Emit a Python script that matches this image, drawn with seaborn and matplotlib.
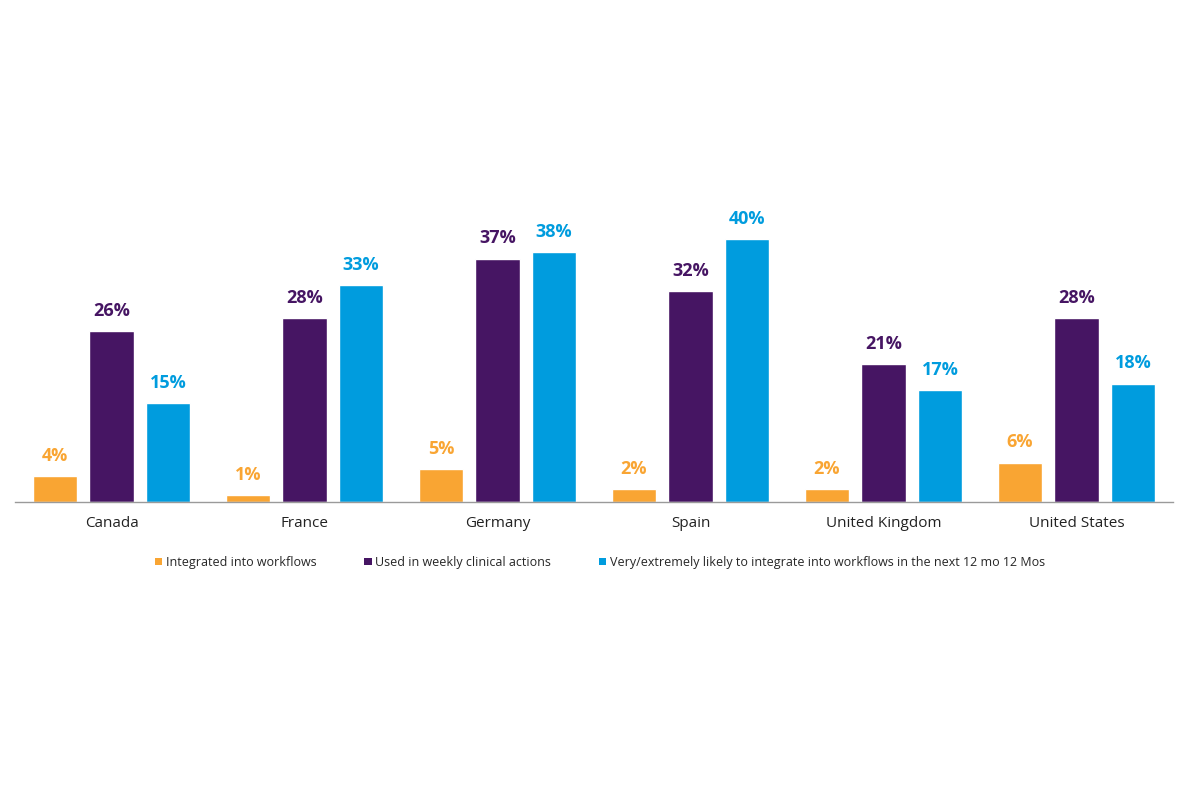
import pandas as pd
import seaborn as sns
import matplotlib.pyplot as plt
from matplotlib.patches import Patch

countries = ["Canada", "France", "Germany", "Spain", "United Kingdom", "United States"]
series = [
    "Integrated into workflows",
    "Used in weekly clinical actions",
    "Very/extremely likely to integrate into workflows in the next 12 mo 12 Mos",
]
integrated = [4, 1, 5, 2, 2, 6]
weekly = [26, 28, 37, 32, 21, 28]
likely = [15, 33, 38, 40, 17, 18]
colors = ["#F9A533", "#461563", "#009CDE"]

rows = []
for name, vals in zip(series, [integrated, weekly, likely]):
    for c, v in zip(countries, vals):
        rows.append({"Country": c, "Series": name, "Value": v})
df = pd.DataFrame(rows)

sns.set_style("white")
plt.rcParams["font.family"] = ["Open Sans", "DejaVu Sans"]

fig = plt.figure(figsize=(12, 8), dpi=100)
ax = fig.add_axes([0.0125, 0.3725, 0.965, 0.44])
sns.barplot(data=df, x="Country", y="Value", hue="Series", palette=colors,
            width=0.88, gap=0.22, saturation=1, order=countries, hue_order=series,
            errorbar=None, legend=False, ax=ax)

for cont, col in zip(ax.containers, colors):
    ax.bar_label(cont, fmt="%d%%", padding=8, color=col,
                 fontsize=13, fontweight="bold")

ax.set_xlim(-0.5, 5.5)
ax.set_ylim(0, 53.5)
ax.set_xlabel("")
ax.set_ylabel("")
ax.set_yticks([])
for s in ["top", "right", "left"]:
    ax.spines[s].set_visible(False)
ax.spines["bottom"].set_color("#9a9a9a")
ax.spines["bottom"].set_linewidth(1)
ax.tick_params(axis="x", length=0, labelsize=11, pad=10, colors="#222222")

handles = [Patch(facecolor=c, edgecolor="none") for c in colors]
fig.legend(handles, series, loc="center", bbox_to_anchor=(0.5, 0.297), ncol=3,
           frameon=False, fontsize=9, handlelength=0.6, handleheight=0.6,
           handletextpad=0.3, columnspacing=3.8)

fig.savefig("out.png", dpi=100, facecolor="white")
